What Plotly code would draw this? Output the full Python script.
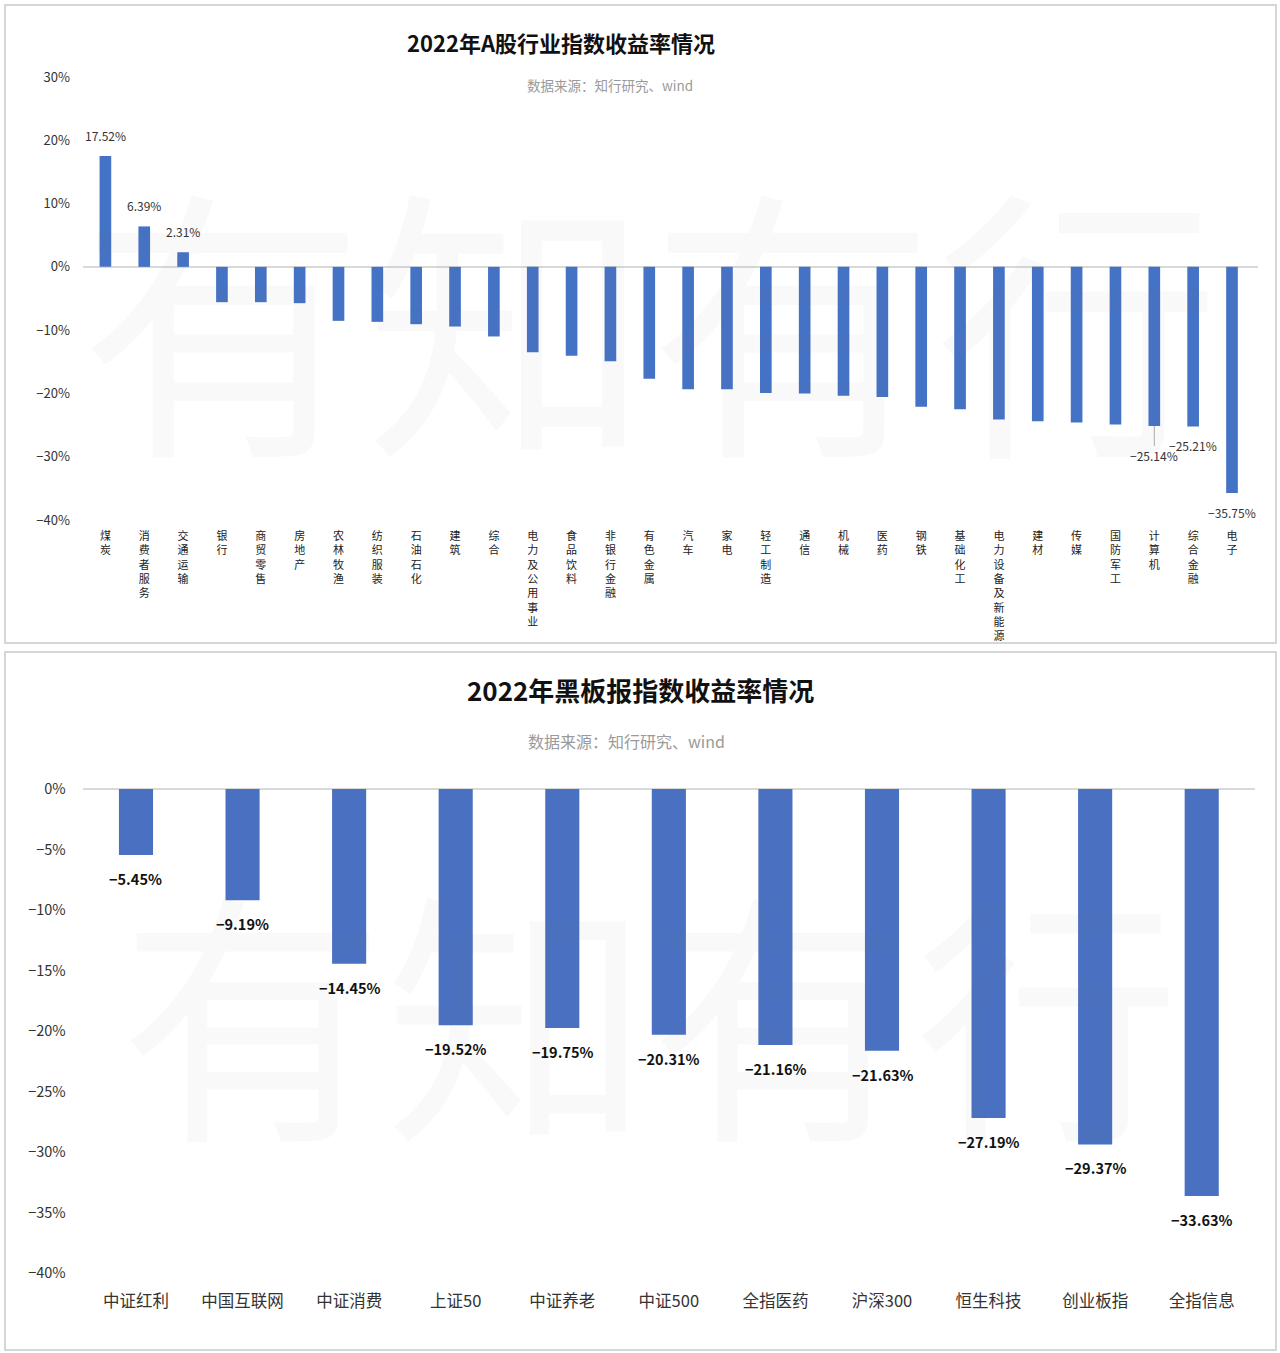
import plotly.graph_objects as go

# ---------------- data ----------------
industry_names = ["煤炭", "消费者服务", "交通运输", "银行", "商贸零售", "房地产", "农林牧渔", "纺织服装",
                  "石油石化", "建筑", "综合", "电力及公用事业", "食品饮料", "非银行金融", "有色金属",
                  "汽车", "家电", "轻工制造", "通信", "机械", "医药", "钢铁", "基础化工",
                  "电力设备及新能源", "建材", "传媒", "国防军工", "计算机", "综合金融", "电子"]
industry_returns = [17.52, 6.39, 2.31, -5.58, -5.58, -5.74, -8.53, -8.69,
                    -9.06, -9.43, -11.0, -13.5, -14.06, -14.9, -17.67,
                    -19.35, -19.35, -19.93, -20.03, -20.35, -20.56, -22.1, -22.5,
                    -24.1, -24.4, -24.6, -24.9, -25.14, -25.21, -35.75]
industry_labeled = ["煤炭", "消费者服务", "交通运输", "计算机", "综合金融", "电子"]

index_names = ["中证红利", "中国互联网", "中证消费", "上证50", "中证养老", "中证500",
               "全指医药", "沪深300", "恒生科技", "创业板指", "全指信息"]
index_returns = [-5.45, -9.19, -14.45, -19.52, -19.75, -20.31, -21.16, -21.63, -27.19, -29.37, -33.63]

top_yticks = [30, 20, 10, 0, -10, -20, -30, -40]
bottom_yticks = [0, -5, -10, -15, -20, -25, -30, -35, -40]

FONT = "Noto Sans CJK SC"
W, H = 1280, 1353


def px_x(x):
    return x / W


def px_y(y):
    return 1 - y / H


def pct(v, fmt="{:.2f}"):
    return (fmt.format(v) + "%").replace("-", "\u2212")


# vertical tick text: stack characters
industry_ticktext = ["<br>".join(list(n)) for n in industry_names]

fig = go.Figure()

fig.add_trace(go.Bar(x=industry_names, y=industry_returns, width=0.3,
                     marker=dict(color="#4472C4", line=dict(width=0)),
                     xaxis="x", yaxis="y", hoverinfo="skip"))
fig.add_trace(go.Bar(x=index_names, y=index_returns, width=0.32,
                     marker=dict(color="#4A70C1", line=dict(width=0)),
                     xaxis="x2", yaxis="y2", hoverinfo="skip"))

annotations = []

# watermarks (first so they sit under other annotations)
annotations += [
    dict(x=px_x(650), y=px_y(310), xref="paper", yref="paper", text="有知有行", showarrow=False,
         xanchor="center", yanchor="middle",
         font=dict(family=FONT, size=285, color="rgba(120,120,150,0.045)")),
    dict(x=px_x(650), y=px_y(1005), xref="paper", yref="paper", text="有知有行", showarrow=False,
         xanchor="center", yanchor="middle",
         font=dict(family=FONT, size=265, color="rgba(120,120,150,0.045)")),
]

# top data labels
for name, v in zip(industry_names, industry_returns):
    if name not in industry_labeled:
        continue
    txt = pct(v)
    if name == "计算机":
        annotations.append(dict(x=name, y=v, xref="x", yref="y", text=txt, showarrow=True,
                                arrowhead=0, arrowwidth=1, arrowcolor="#aaa", ax=0, ay=30,
                                font=dict(family=FONT, size=12, color="#333")))
    elif v >= 0:
        annotations.append(dict(x=name, y=v, xref="x", yref="y", text=txt, showarrow=False,
                                yanchor="bottom", yshift=10,
                                font=dict(family=FONT, size=12, color="#333")))
    else:
        annotations.append(dict(x=name, y=v, xref="x", yref="y", text=txt, showarrow=False,
                                yanchor="top", yshift=-9,
                                font=dict(family=FONT, size=12, color="#333")))

# bottom data labels
for name, v in zip(index_names, index_returns):
    annotations.append(dict(x=name, y=v, xref="x2", yref="y2", text=f"<b>{pct(v)}</b>", showarrow=False,
                            yanchor="top", yshift=-11,
                            font=dict(family=FONT, size=14.5, color="#111")))

# titles / subtitles
annotations += [
    dict(x=px_x(561), y=px_y(42), xref="paper", yref="paper", text="<b>2022年A股行业指数收益率情况</b>",
         showarrow=False, xanchor="center", yanchor="middle", font=dict(family=FONT, size=22, color="#111")),
    dict(x=px_x(610), y=px_y(85), xref="paper", yref="paper", text="数据来源：知行研究、wind",
         showarrow=False, xanchor="center", yanchor="middle", font=dict(family=FONT, size=13.5, color="#9a9a9a")),
    dict(x=px_x(640), y=px_y(689), xref="paper", yref="paper", text="<b>2022年黑板报指数收益率情况</b>",
         showarrow=False, xanchor="center", yanchor="middle", font=dict(family=FONT, size=26, color="#111")),
    dict(x=px_x(626), y=px_y(741), xref="paper", yref="paper", text="数据来源：知行研究、wind",
         showarrow=False, xanchor="center", yanchor="middle", font=dict(family=FONT, size=16, color="#9a9a9a")),
]

shapes = [
    dict(type="rect", xref="paper", yref="paper", x0=px_x(5), x1=px_x(1276), y0=px_y(643), y1=px_y(5),
         line=dict(color="#d6d6d6", width=2), layer="below"),
    dict(type="rect", xref="paper", yref="paper", x0=px_x(5), x1=px_x(1276), y0=px_y(1350), y1=px_y(652),
         line=dict(color="#d6d6d6", width=2), layer="below"),
]

fig.update_layout(
    width=W, height=H,
    margin=dict(l=0, r=0, t=0, b=0, pad=0, autoexpand=False),
    paper_bgcolor="white", plot_bgcolor="white",
    showlegend=False,
    font=dict(family=FONT, color="#333"),
    annotations=annotations,
    shapes=shapes,
    xaxis=dict(domain=[px_x(82.9), px_x(1258)], anchor="y", tickmode="array",
               tickvals=industry_names, ticktext=industry_ticktext, tickangle=0, automargin=False,
               showgrid=False, showline=False, zeroline=False, ticks="",
               tickfont=dict(family=FONT, size=11, color="#222"), ticklabelstandoff=8),
    yaxis=dict(domain=[px_y(520), px_y(77)], anchor="x", range=[-40, 30], automargin=False,
               tickmode="array", tickvals=top_yticks, ticktext=[pct(t, "{}") for t in top_yticks],
               showgrid=False, showline=False, zeroline=True, zerolinecolor="#d9d9d9", zerolinewidth=1.5,
               ticks="", tickfont=dict(family=FONT, size=13, color="#333"), ticklabelstandoff=12),
    xaxis2=dict(domain=[px_x(82.7), px_x(1255)], anchor="y2", tickangle=0, automargin=False,
                showgrid=False, showline=False, zeroline=False, ticks="",
                tickfont=dict(family=FONT, size=16.5, color="#333"), ticklabelstandoff=16),
    yaxis2=dict(domain=[px_y(1273), px_y(789)], anchor="x2", range=[-40, 0], automargin=False,
                tickmode="array", tickvals=bottom_yticks,
                ticktext=[pct(t, "{}") for t in bottom_yticks],
                showgrid=False, showline=False, zeroline=True, zerolinecolor="#d9d9d9", zerolinewidth=1.5,
                ticks="", tickfont=dict(family=FONT, size=14.5, color="#333"), ticklabelstandoff=16),
)

fig.write_html("out.html", config={"displayModeBar": False},
               post_script="document.body.style.margin='0';")
